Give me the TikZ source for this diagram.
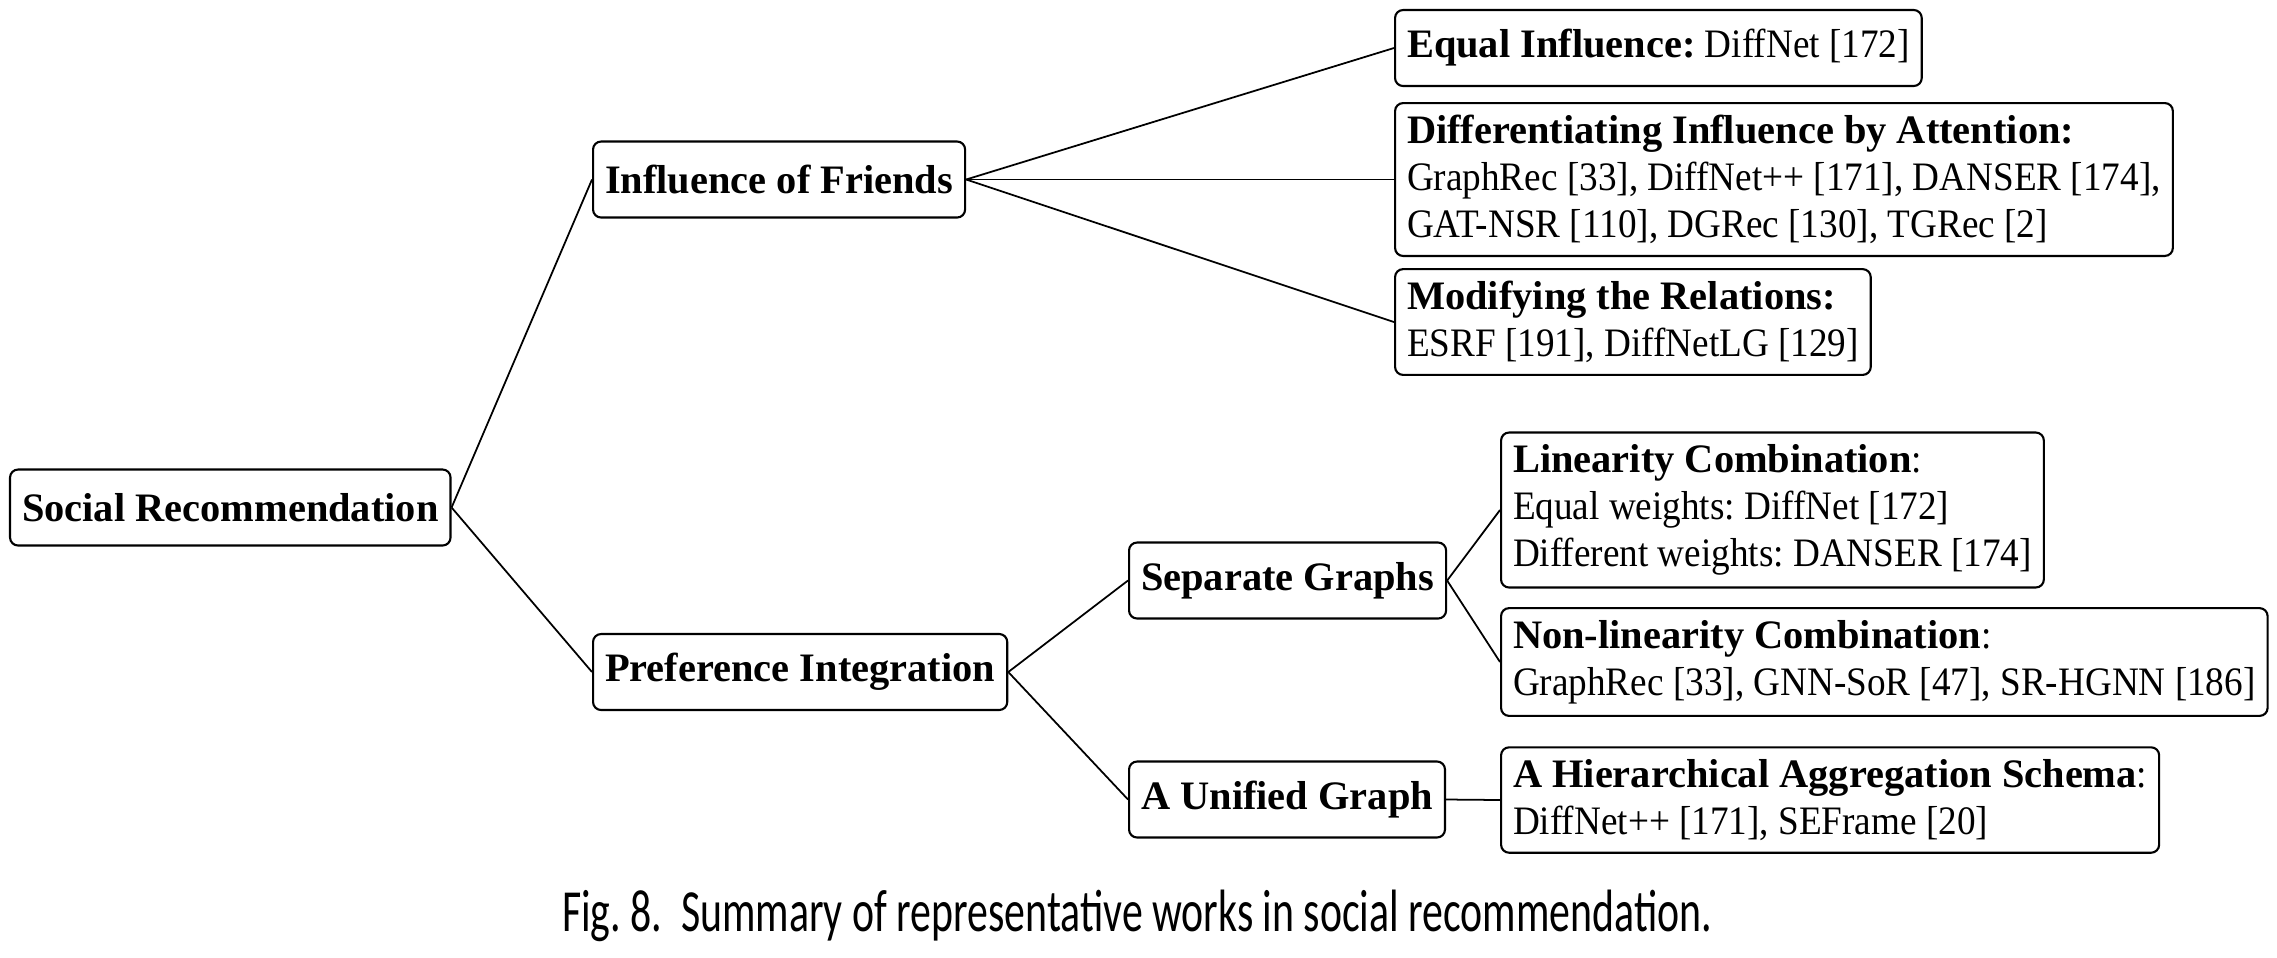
\documentclass[tikz,border=0pt]{standalone}
\usepackage{fontspec}
\setmainfont{Liberation Serif}[UprightFeatures={FakeStretch=0.92}]
\newfontfamily\captionfont{Carlito}[FakeStretch=0.7]
\usetikzlibrary{positioning}

\begin{document}
\frenchspacing
\begin{tikzpicture}[line width=0.6pt,
  box/.style={draw=black, rounded corners=0.08cm, anchor=west, align=left,
    inner xsep=0.12cm, inner ysep=0.12cm, minimum height=0.76cm,
    font=\fontsize{11.5}{13.4}\selectfont},
  link/.style={black, line width=0.5pt}]

  % Picture size
  \def\W{22.77} % width
  \def\H{9.57}  % height
  \useasboundingbox (0,0) rectangle (\W,-\H);

  % Root and first level
  \node[box] (social) at (0.09,-5.075) {\textbf{Social Recommendation}};
  \node[box] (friends) at (5.92,-1.795) {\textbf{Influence of Friends}};
  \node[box] (prefer) at (5.92,-6.72) {\textbf{Preference Integration}};

  % Influence of friends
  \node[box] (equal) at (13.94,-0.48) {\textbf{Equal Influence:} DiffNet [172]};
  \node[box] (attn) at (13.94,-1.795) {\textbf{Differentiating Influence by Attention:}\\
    GraphRec [33], DiffNet++ [171], DANSER [174],\\
    GAT-NSR [110], DGRec [130], TGRec [2]};
  \node[box] (modify) at (13.94,-3.22) {\textbf{Modifying the Relations:}\\
    ESRF [191], DiffNetLG [129]};

  % Preference integration
  \node[box] (separate) at (11.28,-5.805) {\textbf{Separate Graphs}};
  \node[box] (unified) at (11.28,-7.995) {\textbf{A Unified Graph}};
  \node[box] (linear) at (15.00,-5.10) {\textbf{Linearity Combination}:\\
    Equal weights: DiffNet [172]\\
    Different weights: DANSER [174]};
  \node[box] (nonlinear) at (15.00,-6.62) {\textbf{Non-linearity Combination}:\\
    GraphRec [33], GNN-SoR [47], SR-HGNN [186]};
  \node[box] (hier) at (15.00,-8.00) {\textbf{A Hierarchical Aggregation Schema}:\\
    DiffNet++ [171], SEFrame [20]};

  % Connectors
  \foreach \a/\b in {social/friends, social/prefer, friends/equal, friends/attn,
    friends/modify, prefer/separate, prefer/unified, separate/linear,
    separate/nonlinear, unified/hier} {
    \draw[link] (\a.east) -- (\b.west);
  }

  % Caption
  \node[anchor=base, font=\captionfont\fontsize{17}{19}\selectfont] (caption)
    at (11.37,-9.31) {Fig.~8.\ \ Summary of representative works in social recommendation.};

\end{tikzpicture}
\end{document}
